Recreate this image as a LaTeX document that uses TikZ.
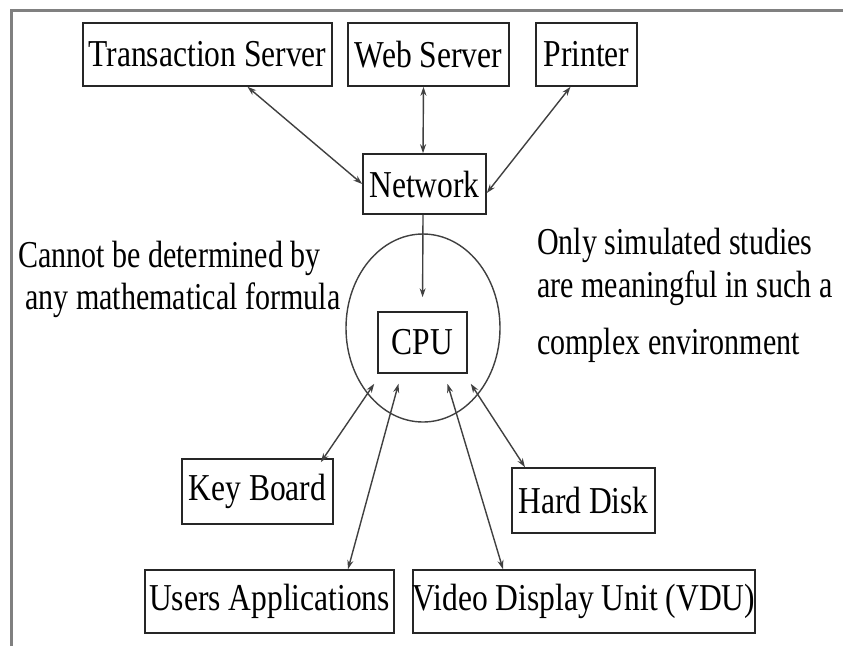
\documentclass[tikz,border=0pt]{standalone}
\usepackage{fontspec}
\setmainfont{Liberation Serif}[FakeStretch=0.83]
\newfontfamily\notefont{Liberation Serif}[FakeStretch=0.79]
\usetikzlibrary{arrows.meta,shapes.geometric}
\begin{document}
\begin{tikzpicture}[x=1pt,y=-1pt,
  box/.style={draw=black!85, line width=1.6pt, fill=white, inner sep=0pt, font=\fontsize{38}{40}\selectfont},
  note/.style={inner sep=0pt, font=\notefont\fontsize{38}{40}\selectfont},
  link/.style={draw=black!75, line width=1.4pt, {Stealth[length=9pt,width=6pt]}-{Stealth[length=9pt,width=6pt]}},
  oneway/.style={draw=black!75, line width=1.4pt, -{Stealth[length=9pt,width=6pt]}}]
\useasboundingbox (0,0) rectangle (843,646);
\fill[white] (0,0) rectangle (843,646);
% frame
\draw[gray, line width=3pt] (11,646) -- (11,10) -- (843,10);
% ellipse
\node[draw=black!75, line width=1.4pt, ellipse, minimum width=154pt, minimum height=188pt, inner sep=0pt] (circ) at (423,328) {};
% boxes
\node[box, minimum width=249pt, minimum height=63pt] (ts) at (207.5,54.5) {Transaction Server};
\node[box, minimum width=161pt, minimum height=63pt] (ws) at (428.5,54.5) {Web Server};
\node[box, minimum width=101pt, minimum height=63pt] (pr) at (586.5,54.5) {Printer};
\node[box, minimum width=123pt, minimum height=60pt] (net) at (424.5,184) {Network};
\node[box, minimum width=89pt, minimum height=61pt] (cpu) at (422.5,342.5) {CPU};
\node[box, minimum width=151pt, minimum height=65pt] (kb) at (257.5,491.5) {Key Board};
\node[box, minimum width=143pt, minimum height=65pt] (hd) at (583.5,500.5) {Hard Disk};
\node[box, minimum width=249pt, minimum height=63pt] (ua) at (269.5,601.5) {Users Applications};
\node[box, minimum width=340pt, minimum height=63pt] (vdu) at (584,601.5) {Video Display Unit (VDU)};
% notes
\node[note, anchor=west] (l1) at (18,258) {Cannot be determined by};
\node[note, anchor=west] (l2) at (25,300) {any mathematical formula};
\node[note, anchor=west] (r1) at (537,245) {Only simulated studies};
\node[note, anchor=west] (r2) at (537,288) {are meaningful in such a};
\node[note, anchor=west] (r3) at (537,345) {complex environment};
% connectors
\draw[link] ([xshift=40pt]ts.south) -- (net.west);
\draw[link] ([xshift=-5pt]ws.south) -- ([xshift=-1.5pt]net.north);
\draw[link] ([xshift=-16pt]pr.south) -- ([yshift=-9pt]net.east);
\draw[oneway, shorten >=14pt] ([xshift=-1.5pt]net.south) -- (cpu.north);
\draw[link] ([xshift=-3pt,yshift=-10pt]cpu.south west) -- ([xshift=-13pt,yshift=-4pt]kb.north east);
\draw[link] ([xshift=-24pt,yshift=-10pt]cpu.south) -- ([xshift=78.5pt]ua.north);
\draw[link] ([xshift=25pt,yshift=-10pt]cpu.south) -- ([xshift=-81pt]vdu.north);
\draw[link] ([xshift=3pt,yshift=-10pt]cpu.south east) -- ([xshift=-58.5pt]hd.north);
\end{tikzpicture}
\end{document}
